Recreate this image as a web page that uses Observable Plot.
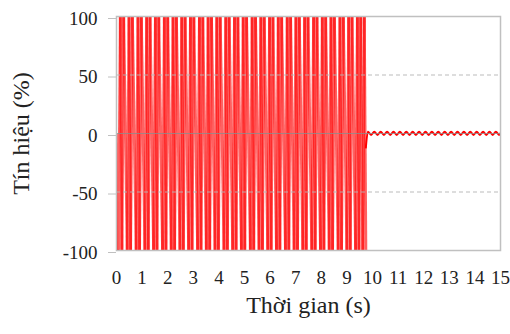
<!DOCTYPE html>
<html>
<head>
<meta charset="utf-8">
<script src="https://cdn.jsdelivr.net/npm/d3@7"></script>
<script src="https://cdn.jsdelivr.net/npm/@observablehq/plot@0.6"></script>
<style>
  html, body { margin: 0; padding: 0; background: white; }
</style>
</head>
<body>
<div id="chart"></div>
<script>
// Tick labels
const xTicks = [0, 1, 2, 3, 4, 5, 6, 7, 8, 9, 10, 11, 12, 13, 14, 15];
const yTicks = [-100, -50, 0, 50, 100];

// Switching phase (0 – 9.74 s): vertex times (s) and values (%)
const bigT = [0, 0.01,
  0.08, 0.15, 0.21, 0.28,
  0.42, 0.49, 0.55, 0.62,
  0.77, 0.84, 0.90, 0.97,
  1.11, 1.18, 1.24, 1.31,
  1.45, 1.52, 1.58, 1.65,
  1.80, 1.87, 1.93, 2.00,
  2.14, 2.21, 2.27, 2.34,
  2.48, 2.55, 2.61, 2.68,
  2.82, 2.89, 2.95, 3.02,
  3.17, 3.24, 3.30, 3.37,
  3.51, 3.58, 3.64, 3.71,
  3.85, 3.92, 3.98, 4.05,
  4.20, 4.27, 4.33, 4.40,
  4.54, 4.61, 4.67, 4.74,
  4.88, 4.95, 5.01, 5.08,
  5.23, 5.30, 5.36, 5.43,
  5.57, 5.64, 5.70, 5.77,
  5.91, 5.98, 6.04, 6.11,
  6.25, 6.32, 6.38, 6.45,
  6.60, 6.67, 6.73, 6.80,
  6.94, 7.01, 7.07, 7.14,
  7.28, 7.35, 7.41, 7.48,
  7.63, 7.70, 7.76, 7.83,
  7.97, 8.04, 8.10, 8.17,
  8.31, 8.38, 8.44, 8.51,
  8.66, 8.73, 8.79, 8.86,
  9.00, 9.07, 9.13, 9.20,
  9.34, 9.41, 9.47, 9.54,
  9.62, 9.68, 9.74];
const bigV = [0, -100,
  -100, 100, -100, 100,
  -100, 100, -100, 100,
  -100, 100, -100, 100,
  -100, 100, -100, 100,
  -100, 100, -100, 100,
  -100, 100, -100, 100,
  -100, 100, -100, 100,
  -100, 100, -100, 100,
  -100, 100, -100, 100,
  -100, 100, -100, 100,
  -100, 100, -100, 100,
  -100, 100, -100, 100,
  -100, 100, -100, 100,
  -100, 100, -100, 100,
  -100, 100, -100, 100,
  -100, 100, -100, 100,
  -100, 100, -100, 100,
  -100, 100, -100, 100,
  -100, 100, -100, 100,
  -100, 100, -100, 100,
  -100, 100, -100, 100,
  -100, 100, -100, 100,
  -100, 100, -100, 100,
  -100, 100, -100, 100,
  -100, 100, -100, 100,
  -100, 100, -100, 100,
  -100, 100, -100, 100,
  -100, 100, -100, 100,
  -100, 100, -100, 100,
  -100, 100, -12];

// Settled phase (9.74 – 15 s): small ripple around 0
const ripT = [9.74, 9.82, 9.945, 10.07, 10.195, 10.32, 10.445, 10.57, 10.695, 10.82, 10.945,
  11.07, 11.195, 11.32, 11.445, 11.57, 11.695, 11.82, 11.945, 12.07, 12.195,
  12.32, 12.445, 12.57, 12.695, 12.82, 12.945, 13.07, 13.195, 13.32, 13.445,
  13.57, 13.695, 13.82, 13.945, 14.07, 14.195, 14.32, 14.445, 14.57, 14.695,
  14.82, 14.945, 15.0];
const ripV = [-12, 1.6, -1.2, 1.6, -1.2, 1.6, -1.2, 1.6, -1.2, 1.6, -1.2,
  1.6, -1.2, 1.6, -1.2, 1.6, -1.2, 1.6, -1.2, 1.6, -1.2,
  1.6, -1.2, 1.6, -1.2, 1.6, -1.2, 1.6, -1.2, 1.6, -1.2,
  1.6, -1.2, 1.6, -1.2, 1.6, -1.2, 1.6, -1.2, 1.6, -1.2,
  1.6, -1.2, 0.3];

const segIdx = d3.range(bigT.length - 1);
const ripple = ripT.map((t, i) => ({t, v: ripV[i]}));

const chart = Plot.plot({
  width: 510,
  height: 334,
  marginLeft: 116,
  marginRight: 10,
  marginTop: 16,
  marginBottom: 84,
  style: {
    fontFamily: "'Liberation Serif', 'Times New Roman', serif",
    fontSize: "19px",
    background: "white",
    color: "#222"
  },
  x: {domain: [0, 15]},
  y: {domain: [-100, 100]},
  marks: [
    Plot.link(segIdx, {
      x1: i => bigT[i], y1: i => bigV[i],
      x2: i => bigT[i + 1], y2: i => bigV[i + 1],
      stroke: "#ff0000", strokeOpacity: 0.62, strokeWidth: 2.9,
      strokeLinecap: "butt", clip: true
    }),
    Plot.line(ripple, {x: "t", y: "v", stroke: "#ff0000", strokeWidth: 2, curve: "monotone-x", clip: true}),
    Plot.ruleY([50, -50], {stroke: "#b4b4b4", strokeDasharray: "4,3", strokeOpacity: 0.9}),
    Plot.ruleY([0], {stroke: "#8c8c8c", strokeOpacity: 0.8}),
    Plot.frame({stroke: "#c0c0c0", strokeWidth: 1.5}),
    Plot.axisX({ticks: xTicks, tickFormat: d => String(d), tickSize: 0, tickPadding: 20, fontSize: 19, fill: "#222", label: null}),
    Plot.axisY({ticks: yTicks, tickFormat: d => String(d), tickSize: 8, tickPadding: 11, stroke: "#c0c0c0", fill: "#222", fontSize: 19, dy: 2, label: null}),
    Plot.text(["Thời gian (s)"], {frameAnchor: "bottom", dy: 62, fontSize: 24, fill: "#222"}),
    Plot.text(["Tín hiệu (%)"], {frameAnchor: "left", dx: -95, rotate: -90, textAnchor: "middle", fontSize: 24, fill: "#222"})
  ]
});
document.getElementById("chart").appendChild(chart);
</script>
</body>
</html>
